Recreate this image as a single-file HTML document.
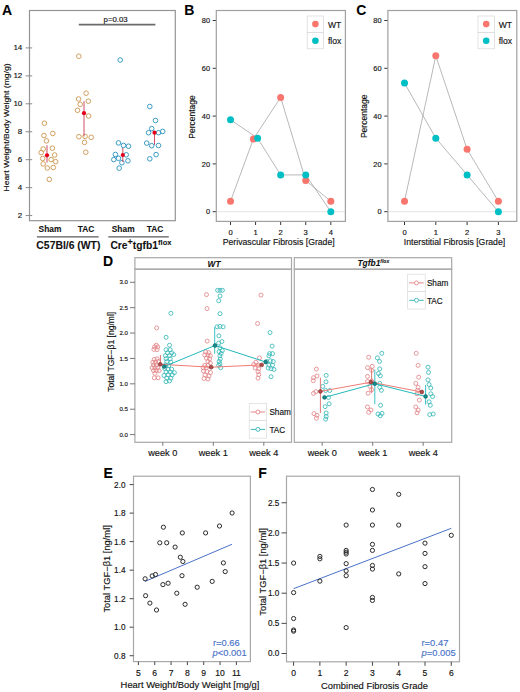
<!DOCTYPE html>
<html><head><meta charset="utf-8"><style>
html,body{margin:0;padding:0;background:#fff;}
svg{display:block;}
svg text{font-family:"Liberation Sans",sans-serif;}
</style></head><body>
<svg width="520" height="692" viewBox="0 0 520 692">
<rect x="0" y="0" width="520" height="692" fill="#fff"/>
<text x="2.10" y="14.90" font-size="14" text-anchor="start" font-weight="bold" font-style="normal" fill="#000" stroke="#000" stroke-width="0.08" >A</text>
<text x="184.20" y="14.80" font-size="14" text-anchor="start" font-weight="bold" font-style="normal" fill="#000" stroke="#000" stroke-width="0.08" >B</text>
<text x="356.30" y="14.80" font-size="14" text-anchor="start" font-weight="bold" font-style="normal" fill="#000" stroke="#000" stroke-width="0.08" >C</text>
<text x="102.90" y="266.10" font-size="14" text-anchor="start" font-weight="bold" font-style="normal" fill="#000" stroke="#000" stroke-width="0.08" >D</text>
<text x="103.40" y="477.90" font-size="14" text-anchor="start" font-weight="bold" font-style="normal" fill="#000" stroke="#000" stroke-width="0.08" >E</text>
<text x="258.30" y="478.00" font-size="14" text-anchor="start" font-weight="bold" font-style="normal" fill="#000" stroke="#000" stroke-width="0.08" >F</text>
<rect x="29.50" y="10.50" width="145.80" height="210.20" stroke="#959595" stroke-width="1.2" fill="none"/>
<line x1="25.70" y1="215.56" x2="32.20" y2="215.56" stroke="#8a8a8a" stroke-width="1" />
<text x="22.30" y="217.66" font-size="8" text-anchor="end" font-weight="normal" font-style="normal" fill="#111" stroke="#111" stroke-width="0.15" >2</text>
<line x1="25.70" y1="187.62" x2="32.20" y2="187.62" stroke="#8a8a8a" stroke-width="1" />
<text x="22.30" y="189.72" font-size="8" text-anchor="end" font-weight="normal" font-style="normal" fill="#111" stroke="#111" stroke-width="0.15" >4</text>
<line x1="25.70" y1="159.68" x2="32.20" y2="159.68" stroke="#8a8a8a" stroke-width="1" />
<text x="22.30" y="161.78" font-size="8" text-anchor="end" font-weight="normal" font-style="normal" fill="#111" stroke="#111" stroke-width="0.15" >6</text>
<line x1="25.70" y1="131.74" x2="32.20" y2="131.74" stroke="#8a8a8a" stroke-width="1" />
<text x="22.30" y="133.84" font-size="8" text-anchor="end" font-weight="normal" font-style="normal" fill="#111" stroke="#111" stroke-width="0.15" >8</text>
<line x1="25.70" y1="103.80" x2="32.20" y2="103.80" stroke="#8a8a8a" stroke-width="1" />
<text x="22.30" y="105.90" font-size="8" text-anchor="end" font-weight="normal" font-style="normal" fill="#111" stroke="#111" stroke-width="0.15" >10</text>
<line x1="25.70" y1="75.86" x2="32.20" y2="75.86" stroke="#8a8a8a" stroke-width="1" />
<text x="22.30" y="77.96" font-size="8" text-anchor="end" font-weight="normal" font-style="normal" fill="#111" stroke="#111" stroke-width="0.15" >12</text>
<line x1="25.70" y1="47.92" x2="32.20" y2="47.92" stroke="#8a8a8a" stroke-width="1" />
<text x="22.30" y="50.02" font-size="8" text-anchor="end" font-weight="normal" font-style="normal" fill="#111" stroke="#111" stroke-width="0.15" >14</text>
<text x="9.40" y="127.40" font-size="7.9" text-anchor="middle" font-weight="normal" font-style="normal" fill="#111" stroke="#111" stroke-width="0.15" transform="rotate(-90 9.4 127.4)" textLength="128" lengthAdjust="spacingAndGlyphs">Heart Weight/Body Weight (mg/g)</text>
<line x1="78.80" y1="24.60" x2="155.40" y2="24.60" stroke="#6b6b6b" stroke-width="1.6" />
<text x="115.60" y="22.10" font-size="7.8" text-anchor="middle" font-weight="normal" font-style="normal" fill="#111" stroke="#111" stroke-width="0.15" >p=0.03</text>
<text x="50.00" y="231.70" font-size="8.4" text-anchor="middle" font-weight="bold" font-style="normal" fill="#111" stroke="#111" stroke-width="0.08" >Sham</text>
<text x="86.00" y="231.70" font-size="8.4" text-anchor="middle" font-weight="bold" font-style="normal" fill="#111" stroke="#111" stroke-width="0.08" >TAC</text>
<text x="123.20" y="231.70" font-size="8.4" text-anchor="middle" font-weight="bold" font-style="normal" fill="#111" stroke="#111" stroke-width="0.08" >Sham</text>
<text x="155.00" y="231.70" font-size="8.4" text-anchor="middle" font-weight="bold" font-style="normal" fill="#111" stroke="#111" stroke-width="0.08" >TAC</text>
<line x1="36.90" y1="236.90" x2="98.70" y2="236.90" stroke="#333" stroke-width="1" />
<line x1="108.30" y1="236.90" x2="168.80" y2="236.90" stroke="#333" stroke-width="1" />
<text x="68.40" y="248.90" font-size="10.4" text-anchor="middle" font-weight="bold" font-style="normal" fill="#111" stroke="#111" stroke-width="0.08" >C57Bl/6 (WT)</text>
<text x="110.4" y="248.9" font-size="10.3" font-weight="bold" fill="#111" stroke="#111" stroke-width="0.08">Cre<tspan font-size="9" dy="-3.6">+</tspan><tspan dy="3.6">tgfb1</tspan><tspan font-size="7.6" dy="-4.3">flox</tspan></text>
<circle cx="44.40" cy="123.20" r="2.3" stroke="#d2a060" stroke-width="1" fill="none"/>
<circle cx="52.80" cy="133.50" r="2.3" stroke="#d2a060" stroke-width="1" fill="none"/>
<circle cx="43.90" cy="135.50" r="2.3" stroke="#d2a060" stroke-width="1" fill="none"/>
<circle cx="46.50" cy="140.90" r="2.3" stroke="#d2a060" stroke-width="1" fill="none"/>
<circle cx="52.40" cy="148.20" r="2.3" stroke="#d2a060" stroke-width="1" fill="none"/>
<circle cx="43.20" cy="149.00" r="2.3" stroke="#d2a060" stroke-width="1" fill="none"/>
<circle cx="41.20" cy="152.60" r="2.3" stroke="#d2a060" stroke-width="1" fill="none"/>
<circle cx="54.70" cy="155.00" r="2.3" stroke="#d2a060" stroke-width="1" fill="none"/>
<circle cx="42.70" cy="158.50" r="2.3" stroke="#d2a060" stroke-width="1" fill="none"/>
<circle cx="51.10" cy="159.60" r="2.3" stroke="#d2a060" stroke-width="1" fill="none"/>
<circle cx="55.70" cy="161.70" r="2.3" stroke="#d2a060" stroke-width="1" fill="none"/>
<circle cx="43.20" cy="163.90" r="2.3" stroke="#d2a060" stroke-width="1" fill="none"/>
<circle cx="47.30" cy="168.00" r="2.3" stroke="#d2a060" stroke-width="1" fill="none"/>
<circle cx="53.30" cy="167.50" r="2.3" stroke="#d2a060" stroke-width="1" fill="none"/>
<circle cx="49.30" cy="179.40" r="2.3" stroke="#d2a060" stroke-width="1" fill="none"/>
<circle cx="78.80" cy="56.20" r="2.3" stroke="#d2a060" stroke-width="1" fill="none"/>
<circle cx="86.10" cy="93.20" r="2.3" stroke="#d2a060" stroke-width="1" fill="none"/>
<circle cx="78.60" cy="99.00" r="2.3" stroke="#d2a060" stroke-width="1" fill="none"/>
<circle cx="88.30" cy="101.20" r="2.3" stroke="#d2a060" stroke-width="1" fill="none"/>
<circle cx="80.20" cy="104.30" r="2.3" stroke="#d2a060" stroke-width="1" fill="none"/>
<circle cx="77.50" cy="110.30" r="2.3" stroke="#d2a060" stroke-width="1" fill="none"/>
<circle cx="88.60" cy="116.00" r="2.3" stroke="#d2a060" stroke-width="1" fill="none"/>
<circle cx="78.90" cy="136.70" r="2.3" stroke="#d2a060" stroke-width="1" fill="none"/>
<circle cx="85.10" cy="136.40" r="2.3" stroke="#d2a060" stroke-width="1" fill="none"/>
<circle cx="91.20" cy="137.30" r="2.3" stroke="#d2a060" stroke-width="1" fill="none"/>
<circle cx="84.50" cy="142.40" r="2.3" stroke="#d2a060" stroke-width="1" fill="none"/>
<circle cx="85.80" cy="152.20" r="2.3" stroke="#d2a060" stroke-width="1" fill="none"/>
<circle cx="120.20" cy="60.00" r="2.3" stroke="#3b9cc4" stroke-width="1" fill="none"/>
<circle cx="118.50" cy="142.90" r="2.3" stroke="#3b9cc4" stroke-width="1" fill="none"/>
<circle cx="123.50" cy="145.40" r="2.3" stroke="#3b9cc4" stroke-width="1" fill="none"/>
<circle cx="128.50" cy="146.20" r="2.3" stroke="#3b9cc4" stroke-width="1" fill="none"/>
<circle cx="115.40" cy="154.50" r="2.3" stroke="#3b9cc4" stroke-width="1" fill="none"/>
<circle cx="126.20" cy="154.80" r="2.3" stroke="#3b9cc4" stroke-width="1" fill="none"/>
<circle cx="113.80" cy="159.60" r="2.3" stroke="#3b9cc4" stroke-width="1" fill="none"/>
<circle cx="118.50" cy="158.30" r="2.3" stroke="#3b9cc4" stroke-width="1" fill="none"/>
<circle cx="121.90" cy="162.70" r="2.3" stroke="#3b9cc4" stroke-width="1" fill="none"/>
<circle cx="127.90" cy="160.80" r="2.3" stroke="#3b9cc4" stroke-width="1" fill="none"/>
<circle cx="119.20" cy="168.10" r="2.3" stroke="#3b9cc4" stroke-width="1" fill="none"/>
<circle cx="149.80" cy="106.50" r="2.3" stroke="#3b9cc4" stroke-width="1" fill="none"/>
<circle cx="155.50" cy="120.50" r="2.3" stroke="#3b9cc4" stroke-width="1" fill="none"/>
<circle cx="151.70" cy="128.60" r="2.3" stroke="#3b9cc4" stroke-width="1" fill="none"/>
<circle cx="148.60" cy="132.70" r="2.3" stroke="#3b9cc4" stroke-width="1" fill="none"/>
<circle cx="158.50" cy="132.70" r="2.3" stroke="#3b9cc4" stroke-width="1" fill="none"/>
<circle cx="162.70" cy="131.40" r="2.3" stroke="#3b9cc4" stroke-width="1" fill="none"/>
<circle cx="146.70" cy="143.10" r="2.3" stroke="#3b9cc4" stroke-width="1" fill="none"/>
<circle cx="151.70" cy="145.70" r="2.3" stroke="#3b9cc4" stroke-width="1" fill="none"/>
<circle cx="158.50" cy="145.50" r="2.3" stroke="#3b9cc4" stroke-width="1" fill="none"/>
<circle cx="156.10" cy="154.60" r="2.3" stroke="#3b9cc4" stroke-width="1" fill="none"/>
<circle cx="149.80" cy="158.80" r="2.3" stroke="#3b9cc4" stroke-width="1" fill="none"/>
<line x1="47.00" y1="145.20" x2="47.00" y2="162.60" stroke="#c83a55" stroke-width="0.9" />
<circle cx="47.00" cy="155.30" r="2.1" stroke="none" stroke-width="1" fill="#e3001b"/>
<line x1="84.00" y1="101.20" x2="84.00" y2="136.40" stroke="#c83a55" stroke-width="0.9" />
<circle cx="84.00" cy="113.20" r="2.1" stroke="none" stroke-width="1" fill="#e3001b"/>
<line x1="122.80" y1="148.00" x2="122.80" y2="162.00" stroke="#c83a55" stroke-width="0.9" />
<circle cx="122.80" cy="155.00" r="2.1" stroke="none" stroke-width="1" fill="#e3001b"/>
<line x1="154.50" y1="132.70" x2="154.50" y2="144.80" stroke="#c83a55" stroke-width="0.9" />
<circle cx="154.50" cy="132.70" r="2.1" stroke="none" stroke-width="1" fill="#e3001b"/>
<line x1="216.30" y1="211.70" x2="345.40" y2="211.70" stroke="#dcdcdc" stroke-width="0.8" />
<line x1="212.70" y1="211.70" x2="216.30" y2="211.70" stroke="#333" stroke-width="1" />
<text x="210.00" y="214.30" font-size="7.4" text-anchor="end" font-weight="normal" font-style="normal" fill="#111" stroke="#111" stroke-width="0.15" >0</text>
<line x1="212.70" y1="163.90" x2="216.30" y2="163.90" stroke="#333" stroke-width="1" />
<text x="210.00" y="166.50" font-size="7.4" text-anchor="end" font-weight="normal" font-style="normal" fill="#111" stroke="#111" stroke-width="0.15" >20</text>
<line x1="212.70" y1="116.10" x2="216.30" y2="116.10" stroke="#333" stroke-width="1" />
<text x="210.00" y="118.70" font-size="7.4" text-anchor="end" font-weight="normal" font-style="normal" fill="#111" stroke="#111" stroke-width="0.15" >40</text>
<line x1="212.70" y1="68.30" x2="216.30" y2="68.30" stroke="#333" stroke-width="1" />
<text x="210.00" y="70.90" font-size="7.4" text-anchor="end" font-weight="normal" font-style="normal" fill="#111" stroke="#111" stroke-width="0.15" >60</text>
<line x1="212.70" y1="20.50" x2="216.30" y2="20.50" stroke="#333" stroke-width="1" />
<text x="210.00" y="23.10" font-size="7.4" text-anchor="end" font-weight="normal" font-style="normal" fill="#111" stroke="#111" stroke-width="0.15" >80</text>
<line x1="230.50" y1="221.40" x2="230.50" y2="225.00" stroke="#333" stroke-width="1" />
<text x="230.50" y="235.30" font-size="7.6" text-anchor="middle" font-weight="normal" font-style="normal" fill="#111" stroke="#111" stroke-width="0.15" >0</text>
<line x1="255.58" y1="221.40" x2="255.58" y2="225.00" stroke="#333" stroke-width="1" />
<text x="255.58" y="235.30" font-size="7.6" text-anchor="middle" font-weight="normal" font-style="normal" fill="#111" stroke="#111" stroke-width="0.15" >1</text>
<line x1="280.66" y1="221.40" x2="280.66" y2="225.00" stroke="#333" stroke-width="1" />
<text x="280.66" y="235.30" font-size="7.6" text-anchor="middle" font-weight="normal" font-style="normal" fill="#111" stroke="#111" stroke-width="0.15" >2</text>
<line x1="305.74" y1="221.40" x2="305.74" y2="225.00" stroke="#333" stroke-width="1" />
<text x="305.74" y="235.30" font-size="7.6" text-anchor="middle" font-weight="normal" font-style="normal" fill="#111" stroke="#111" stroke-width="0.15" >3</text>
<line x1="330.82" y1="221.40" x2="330.82" y2="225.00" stroke="#333" stroke-width="1" />
<text x="330.82" y="235.30" font-size="7.6" text-anchor="middle" font-weight="normal" font-style="normal" fill="#111" stroke="#111" stroke-width="0.15" >4</text>
<text x="278.70" y="245.20" font-size="8.7" text-anchor="middle" font-weight="normal" font-style="normal" fill="#111" stroke="#111" stroke-width="0.15" >Perivascular Fibrosis [Grade]</text>
<text x="195.20" y="117.00" font-size="8.5" text-anchor="middle" font-weight="normal" font-style="normal" fill="#111" stroke="#111" stroke-width="0.15" transform="rotate(-90 195.20000000000002 117)" >Percentage</text>
<polyline points="230.50,201.31 253.38,138.96 280.66,97.40 305.74,180.53 330.82,201.31" fill="none" stroke="#9a9a9a" stroke-width="0.7"/>
<polyline points="230.50,119.78 257.58,138.16 280.66,174.93 305.74,174.93 330.82,211.70" fill="none" stroke="#9a9a9a" stroke-width="0.7"/>
<circle cx="230.50" cy="201.31" r="3.5" stroke="none" stroke-width="1" fill="#f8766d"/>
<circle cx="253.38" cy="138.96" r="3.5" stroke="none" stroke-width="1" fill="#f8766d"/>
<circle cx="280.66" cy="97.40" r="3.5" stroke="none" stroke-width="1" fill="#f8766d"/>
<circle cx="305.74" cy="180.53" r="3.5" stroke="none" stroke-width="1" fill="#f8766d"/>
<circle cx="330.82" cy="201.31" r="3.5" stroke="none" stroke-width="1" fill="#f8766d"/>
<circle cx="230.50" cy="119.78" r="3.5" stroke="none" stroke-width="1" fill="#00bfc4"/>
<circle cx="257.58" cy="138.16" r="3.5" stroke="none" stroke-width="1" fill="#00bfc4"/>
<circle cx="280.66" cy="174.93" r="3.5" stroke="none" stroke-width="1" fill="#00bfc4"/>
<circle cx="305.74" cy="174.93" r="3.5" stroke="none" stroke-width="1" fill="#00bfc4"/>
<circle cx="330.82" cy="211.70" r="3.5" stroke="none" stroke-width="1" fill="#00bfc4"/>
<rect x="216.30" y="10.50" width="129.10" height="210.90" stroke="#a0a0a0" stroke-width="1.2" fill="none"/>
<rect x="307.20" y="16.00" width="16.40" height="16.40" stroke="#d0d0d0" stroke-width="0.6" fill="#fff"/>
<rect x="307.20" y="32.40" width="16.40" height="16.40" stroke="#d0d0d0" stroke-width="0.6" fill="#fff"/>
<circle cx="315.40" cy="24.10" r="3.3" stroke="none" stroke-width="1" fill="#f8766d"/>
<circle cx="315.40" cy="40.80" r="3.3" stroke="none" stroke-width="1" fill="#00bfc4"/>
<text x="327.90" y="27.50" font-size="8.6" text-anchor="start" font-weight="normal" font-style="normal" fill="#111" stroke="#111" stroke-width="0.15" >WT</text>
<text x="327.90" y="44.20" font-size="8.6" text-anchor="start" font-weight="normal" font-style="normal" fill="#111" stroke="#111" stroke-width="0.15" >flox</text>
<line x1="387.90" y1="211.70" x2="516.80" y2="211.70" stroke="#dcdcdc" stroke-width="0.8" />
<line x1="384.30" y1="211.70" x2="387.90" y2="211.70" stroke="#333" stroke-width="1" />
<text x="381.60" y="214.30" font-size="7.4" text-anchor="end" font-weight="normal" font-style="normal" fill="#111" stroke="#111" stroke-width="0.15" >0</text>
<line x1="384.30" y1="163.90" x2="387.90" y2="163.90" stroke="#333" stroke-width="1" />
<text x="381.60" y="166.50" font-size="7.4" text-anchor="end" font-weight="normal" font-style="normal" fill="#111" stroke="#111" stroke-width="0.15" >20</text>
<line x1="384.30" y1="116.10" x2="387.90" y2="116.10" stroke="#333" stroke-width="1" />
<text x="381.60" y="118.70" font-size="7.4" text-anchor="end" font-weight="normal" font-style="normal" fill="#111" stroke="#111" stroke-width="0.15" >40</text>
<line x1="384.30" y1="68.30" x2="387.90" y2="68.30" stroke="#333" stroke-width="1" />
<text x="381.60" y="70.90" font-size="7.4" text-anchor="end" font-weight="normal" font-style="normal" fill="#111" stroke="#111" stroke-width="0.15" >60</text>
<line x1="384.30" y1="20.50" x2="387.90" y2="20.50" stroke="#333" stroke-width="1" />
<text x="381.60" y="23.10" font-size="7.4" text-anchor="end" font-weight="normal" font-style="normal" fill="#111" stroke="#111" stroke-width="0.15" >80</text>
<line x1="404.50" y1="221.40" x2="404.50" y2="225.00" stroke="#333" stroke-width="1" />
<text x="404.50" y="235.30" font-size="7.6" text-anchor="middle" font-weight="normal" font-style="normal" fill="#111" stroke="#111" stroke-width="0.15" >0</text>
<line x1="435.80" y1="221.40" x2="435.80" y2="225.00" stroke="#333" stroke-width="1" />
<text x="435.80" y="235.30" font-size="7.6" text-anchor="middle" font-weight="normal" font-style="normal" fill="#111" stroke="#111" stroke-width="0.15" >1</text>
<line x1="467.10" y1="221.40" x2="467.10" y2="225.00" stroke="#333" stroke-width="1" />
<text x="467.10" y="235.30" font-size="7.6" text-anchor="middle" font-weight="normal" font-style="normal" fill="#111" stroke="#111" stroke-width="0.15" >2</text>
<line x1="498.40" y1="221.40" x2="498.40" y2="225.00" stroke="#333" stroke-width="1" />
<text x="498.40" y="235.30" font-size="7.6" text-anchor="middle" font-weight="normal" font-style="normal" fill="#111" stroke="#111" stroke-width="0.15" >3</text>
<text x="454.50" y="245.20" font-size="8.7" text-anchor="middle" font-weight="normal" font-style="normal" fill="#111" stroke="#111" stroke-width="0.15" >Interstitial Fibrosis [Grade]</text>
<text x="366.80" y="116.30" font-size="8.5" text-anchor="middle" font-weight="normal" font-style="normal" fill="#111" stroke="#111" stroke-width="0.15" transform="rotate(-90 366.79999999999995 116.3)" >Percentage</text>
<polyline points="404.50,201.31 435.80,55.83 467.10,149.35 498.40,201.31" fill="none" stroke="#9a9a9a" stroke-width="0.7"/>
<polyline points="404.50,83.01 435.80,138.16 467.10,174.93 498.40,211.70" fill="none" stroke="#9a9a9a" stroke-width="0.7"/>
<circle cx="404.50" cy="201.31" r="3.5" stroke="none" stroke-width="1" fill="#f8766d"/>
<circle cx="435.80" cy="55.83" r="3.5" stroke="none" stroke-width="1" fill="#f8766d"/>
<circle cx="467.10" cy="149.35" r="3.5" stroke="none" stroke-width="1" fill="#f8766d"/>
<circle cx="498.40" cy="201.31" r="3.5" stroke="none" stroke-width="1" fill="#f8766d"/>
<circle cx="404.50" cy="83.01" r="3.5" stroke="none" stroke-width="1" fill="#00bfc4"/>
<circle cx="435.80" cy="138.16" r="3.5" stroke="none" stroke-width="1" fill="#00bfc4"/>
<circle cx="467.10" cy="174.93" r="3.5" stroke="none" stroke-width="1" fill="#00bfc4"/>
<circle cx="498.40" cy="211.70" r="3.5" stroke="none" stroke-width="1" fill="#00bfc4"/>
<rect x="387.90" y="10.50" width="128.90" height="210.90" stroke="#a0a0a0" stroke-width="1.2" fill="none"/>
<rect x="478.00" y="16.00" width="16.40" height="16.40" stroke="#d0d0d0" stroke-width="0.6" fill="#fff"/>
<rect x="478.00" y="32.40" width="16.40" height="16.40" stroke="#d0d0d0" stroke-width="0.6" fill="#fff"/>
<circle cx="486.20" cy="24.10" r="3.3" stroke="none" stroke-width="1" fill="#f8766d"/>
<circle cx="486.20" cy="40.80" r="3.3" stroke="none" stroke-width="1" fill="#00bfc4"/>
<text x="498.70" y="27.50" font-size="8.6" text-anchor="start" font-weight="normal" font-style="normal" fill="#111" stroke="#111" stroke-width="0.15" >WT</text>
<text x="498.70" y="44.20" font-size="8.6" text-anchor="start" font-weight="normal" font-style="normal" fill="#111" stroke="#111" stroke-width="0.15" >flox</text>
<rect x="134.90" y="257.70" width="156.60" height="11.50" stroke="#a8a8a8" stroke-width="1.2" fill="#fff"/>
<rect x="134.90" y="269.20" width="156.60" height="173.10" stroke="#a8a8a8" stroke-width="1.2" fill="none"/>
<line x1="162.80" y1="442.30" x2="162.80" y2="445.80" stroke="#555" stroke-width="0.8" />
<text x="162.80" y="455.80" font-size="9.2" text-anchor="middle" font-weight="normal" font-style="normal" fill="#111" stroke="#111" stroke-width="0.15" >week 0</text>
<line x1="213.30" y1="442.30" x2="213.30" y2="445.80" stroke="#555" stroke-width="0.8" />
<text x="213.30" y="455.80" font-size="9.2" text-anchor="middle" font-weight="normal" font-style="normal" fill="#111" stroke="#111" stroke-width="0.15" >week 1</text>
<line x1="263.80" y1="442.30" x2="263.80" y2="445.80" stroke="#555" stroke-width="0.8" />
<text x="263.80" y="455.80" font-size="9.2" text-anchor="middle" font-weight="normal" font-style="normal" fill="#111" stroke="#111" stroke-width="0.15" >week 4</text>
<rect x="294.30" y="257.70" width="157.40" height="11.50" stroke="#a8a8a8" stroke-width="1.2" fill="#fff"/>
<rect x="294.30" y="269.20" width="157.40" height="173.10" stroke="#a8a8a8" stroke-width="1.2" fill="none"/>
<line x1="322.20" y1="442.30" x2="322.20" y2="445.80" stroke="#555" stroke-width="0.8" />
<text x="322.20" y="455.80" font-size="9.2" text-anchor="middle" font-weight="normal" font-style="normal" fill="#111" stroke="#111" stroke-width="0.15" >week 0</text>
<line x1="372.70" y1="442.30" x2="372.70" y2="445.80" stroke="#555" stroke-width="0.8" />
<text x="372.70" y="455.80" font-size="9.2" text-anchor="middle" font-weight="normal" font-style="normal" fill="#111" stroke="#111" stroke-width="0.15" >week 1</text>
<line x1="423.20" y1="442.30" x2="423.20" y2="445.80" stroke="#555" stroke-width="0.8" />
<text x="423.20" y="455.80" font-size="9.2" text-anchor="middle" font-weight="normal" font-style="normal" fill="#111" stroke="#111" stroke-width="0.15" >week 4</text>
<text x="214.00" y="266.80" font-size="8.3" text-anchor="middle" font-weight="bold" font-style="italic" fill="#111" stroke="#111" stroke-width="0.08" >WT</text>
<text x="357.5" y="266.4" font-size="8.4" font-weight="bold" font-style="italic" fill="#111" stroke="#111" stroke-width="0.08">Tgfb1<tspan font-size="5.0" dy="-3.1">flox</tspan></text>
<line x1="130.00" y1="434.60" x2="134.90" y2="434.60" stroke="#555" stroke-width="0.8" />
<text x="127.90" y="436.80" font-size="6.1" text-anchor="end" font-weight="normal" font-style="normal" fill="#111" stroke="#111" stroke-width="0.15" >0.0</text>
<line x1="130.00" y1="409.22" x2="134.90" y2="409.22" stroke="#555" stroke-width="0.8" />
<text x="127.90" y="411.42" font-size="6.1" text-anchor="end" font-weight="normal" font-style="normal" fill="#111" stroke="#111" stroke-width="0.15" >0.5</text>
<line x1="130.00" y1="383.83" x2="134.90" y2="383.83" stroke="#555" stroke-width="0.8" />
<text x="127.90" y="386.03" font-size="6.1" text-anchor="end" font-weight="normal" font-style="normal" fill="#111" stroke="#111" stroke-width="0.15" >1.0</text>
<line x1="130.00" y1="358.45" x2="134.90" y2="358.45" stroke="#555" stroke-width="0.8" />
<text x="127.90" y="360.65" font-size="6.1" text-anchor="end" font-weight="normal" font-style="normal" fill="#111" stroke="#111" stroke-width="0.15" >1.5</text>
<line x1="130.00" y1="333.06" x2="134.90" y2="333.06" stroke="#555" stroke-width="0.8" />
<text x="127.90" y="335.26" font-size="6.1" text-anchor="end" font-weight="normal" font-style="normal" fill="#111" stroke="#111" stroke-width="0.15" >2.0</text>
<line x1="130.00" y1="307.68" x2="134.90" y2="307.68" stroke="#555" stroke-width="0.8" />
<text x="127.90" y="309.88" font-size="6.1" text-anchor="end" font-weight="normal" font-style="normal" fill="#111" stroke="#111" stroke-width="0.15" >2.5</text>
<line x1="130.00" y1="282.29" x2="134.90" y2="282.29" stroke="#555" stroke-width="0.8" />
<text x="127.90" y="284.49" font-size="6.1" text-anchor="end" font-weight="normal" font-style="normal" fill="#111" stroke="#111" stroke-width="0.15" >3.0</text>
<text x="113.60" y="351.80" font-size="8.4" text-anchor="middle" font-weight="normal" font-style="normal" fill="#111" stroke="#111" stroke-width="0.15" transform="rotate(-90 113.6 351.8)" textLength="80" lengthAdjust="spacingAndGlyphs">Total TGF−β1 [ng/ml]</text>
<circle cx="156.70" cy="327.90" r="2.0" stroke="#e3878a" stroke-width="0.85" fill="none"/>
<circle cx="156.30" cy="345.20" r="2.0" stroke="#e3878a" stroke-width="0.85" fill="none"/>
<circle cx="154.60" cy="346.90" r="2.0" stroke="#e3878a" stroke-width="0.85" fill="none"/>
<circle cx="157.70" cy="346.90" r="2.0" stroke="#e3878a" stroke-width="0.85" fill="none"/>
<circle cx="153.90" cy="349.40" r="2.0" stroke="#e3878a" stroke-width="0.85" fill="none"/>
<circle cx="157.00" cy="349.70" r="2.0" stroke="#e3878a" stroke-width="0.85" fill="none"/>
<circle cx="154.30" cy="377.80" r="2.0" stroke="#e3878a" stroke-width="0.85" fill="none"/>
<circle cx="158.10" cy="377.80" r="2.0" stroke="#e3878a" stroke-width="0.85" fill="none"/>
<circle cx="154.25" cy="359.44" r="2.0" stroke="#e3878a" stroke-width="0.85" fill="none"/>
<circle cx="157.03" cy="358.75" r="2.0" stroke="#e3878a" stroke-width="0.85" fill="none"/>
<circle cx="152.86" cy="362.22" r="2.0" stroke="#e3878a" stroke-width="0.85" fill="none"/>
<circle cx="155.64" cy="362.22" r="2.0" stroke="#e3878a" stroke-width="0.85" fill="none"/>
<circle cx="158.42" cy="361.53" r="2.0" stroke="#e3878a" stroke-width="0.85" fill="none"/>
<circle cx="153.56" cy="365.00" r="2.0" stroke="#e3878a" stroke-width="0.85" fill="none"/>
<circle cx="156.33" cy="365.00" r="2.0" stroke="#e3878a" stroke-width="0.85" fill="none"/>
<circle cx="152.17" cy="367.78" r="2.0" stroke="#e3878a" stroke-width="0.85" fill="none"/>
<circle cx="154.94" cy="367.78" r="2.0" stroke="#e3878a" stroke-width="0.85" fill="none"/>
<circle cx="157.72" cy="367.78" r="2.0" stroke="#e3878a" stroke-width="0.85" fill="none"/>
<circle cx="153.56" cy="370.56" r="2.0" stroke="#e3878a" stroke-width="0.85" fill="none"/>
<circle cx="156.33" cy="370.56" r="2.0" stroke="#e3878a" stroke-width="0.85" fill="none"/>
<circle cx="159.11" cy="370.56" r="2.0" stroke="#e3878a" stroke-width="0.85" fill="none"/>
<circle cx="154.94" cy="373.33" r="2.0" stroke="#e3878a" stroke-width="0.85" fill="none"/>
<circle cx="206.50" cy="294.60" r="2.0" stroke="#e3878a" stroke-width="0.85" fill="none"/>
<circle cx="207.00" cy="308.60" r="2.0" stroke="#e3878a" stroke-width="0.85" fill="none"/>
<circle cx="207.20" cy="341.10" r="2.0" stroke="#e3878a" stroke-width="0.85" fill="none"/>
<circle cx="203.50" cy="371.00" r="2.0" stroke="#e3878a" stroke-width="0.85" fill="none"/>
<circle cx="207.00" cy="371.50" r="2.0" stroke="#e3878a" stroke-width="0.85" fill="none"/>
<circle cx="210.50" cy="372.50" r="2.0" stroke="#e3878a" stroke-width="0.85" fill="none"/>
<circle cx="205.00" cy="375.00" r="2.0" stroke="#e3878a" stroke-width="0.85" fill="none"/>
<circle cx="209.00" cy="376.00" r="2.0" stroke="#e3878a" stroke-width="0.85" fill="none"/>
<circle cx="204.00" cy="378.50" r="2.0" stroke="#e3878a" stroke-width="0.85" fill="none"/>
<circle cx="208.00" cy="379.00" r="2.0" stroke="#e3878a" stroke-width="0.85" fill="none"/>
<circle cx="205.57" cy="351.82" r="2.0" stroke="#e3878a" stroke-width="0.85" fill="none"/>
<circle cx="208.75" cy="352.62" r="2.0" stroke="#e3878a" stroke-width="0.85" fill="none"/>
<circle cx="204.77" cy="355.00" r="2.0" stroke="#e3878a" stroke-width="0.85" fill="none"/>
<circle cx="207.96" cy="355.00" r="2.0" stroke="#e3878a" stroke-width="0.85" fill="none"/>
<circle cx="210.34" cy="355.80" r="2.0" stroke="#e3878a" stroke-width="0.85" fill="none"/>
<circle cx="206.36" cy="358.19" r="2.0" stroke="#e3878a" stroke-width="0.85" fill="none"/>
<circle cx="209.55" cy="358.98" r="2.0" stroke="#e3878a" stroke-width="0.85" fill="none"/>
<circle cx="207.96" cy="361.37" r="2.0" stroke="#e3878a" stroke-width="0.85" fill="none"/>
<circle cx="210.34" cy="362.96" r="2.0" stroke="#e3878a" stroke-width="0.85" fill="none"/>
<circle cx="204.77" cy="365.35" r="2.0" stroke="#e3878a" stroke-width="0.85" fill="none"/>
<circle cx="207.96" cy="365.35" r="2.0" stroke="#e3878a" stroke-width="0.85" fill="none"/>
<circle cx="203.18" cy="367.73" r="2.0" stroke="#e3878a" stroke-width="0.85" fill="none"/>
<circle cx="206.36" cy="367.73" r="2.0" stroke="#e3878a" stroke-width="0.85" fill="none"/>
<circle cx="261.00" cy="295.10" r="2.0" stroke="#e3878a" stroke-width="0.85" fill="none"/>
<circle cx="257.60" cy="323.50" r="2.0" stroke="#e3878a" stroke-width="0.85" fill="none"/>
<circle cx="259.51" cy="357.92" r="2.0" stroke="#e3878a" stroke-width="0.85" fill="none"/>
<circle cx="255.90" cy="362.25" r="2.0" stroke="#e3878a" stroke-width="0.85" fill="none"/>
<circle cx="253.73" cy="364.42" r="2.0" stroke="#e3878a" stroke-width="0.85" fill="none"/>
<circle cx="258.06" cy="365.14" r="2.0" stroke="#e3878a" stroke-width="0.85" fill="none"/>
<circle cx="255.17" cy="368.03" r="2.0" stroke="#e3878a" stroke-width="0.85" fill="none"/>
<circle cx="258.79" cy="368.76" r="2.0" stroke="#e3878a" stroke-width="0.85" fill="none"/>
<circle cx="258.06" cy="371.65" r="2.0" stroke="#e3878a" stroke-width="0.85" fill="none"/>
<circle cx="258.79" cy="374.54" r="2.0" stroke="#e3878a" stroke-width="0.85" fill="none"/>
<circle cx="258.06" cy="378.15" r="2.0" stroke="#e3878a" stroke-width="0.85" fill="none"/>
<circle cx="316.40" cy="369.10" r="2.0" stroke="#e3878a" stroke-width="0.85" fill="none"/>
<circle cx="317.00" cy="376.00" r="2.0" stroke="#e3878a" stroke-width="0.85" fill="none"/>
<circle cx="313.50" cy="377.70" r="2.0" stroke="#e3878a" stroke-width="0.85" fill="none"/>
<circle cx="313.30" cy="380.60" r="2.0" stroke="#e3878a" stroke-width="0.85" fill="none"/>
<circle cx="313.50" cy="393.40" r="2.0" stroke="#e3878a" stroke-width="0.85" fill="none"/>
<circle cx="315.80" cy="391.60" r="2.0" stroke="#e3878a" stroke-width="0.85" fill="none"/>
<circle cx="314.00" cy="413.60" r="2.0" stroke="#e3878a" stroke-width="0.85" fill="none"/>
<circle cx="317.00" cy="415.30" r="2.0" stroke="#e3878a" stroke-width="0.85" fill="none"/>
<circle cx="316.40" cy="418.20" r="2.0" stroke="#e3878a" stroke-width="0.85" fill="none"/>
<circle cx="368.70" cy="357.30" r="2.0" stroke="#e3878a" stroke-width="0.85" fill="none"/>
<circle cx="372.20" cy="366.40" r="2.0" stroke="#e3878a" stroke-width="0.85" fill="none"/>
<circle cx="367.50" cy="367.70" r="2.0" stroke="#e3878a" stroke-width="0.85" fill="none"/>
<circle cx="371.60" cy="370.30" r="2.0" stroke="#e3878a" stroke-width="0.85" fill="none"/>
<circle cx="367.50" cy="376.40" r="2.0" stroke="#e3878a" stroke-width="0.85" fill="none"/>
<circle cx="367.50" cy="381.60" r="2.0" stroke="#e3878a" stroke-width="0.85" fill="none"/>
<circle cx="371.60" cy="381.00" r="2.0" stroke="#e3878a" stroke-width="0.85" fill="none"/>
<circle cx="369.90" cy="386.20" r="2.0" stroke="#e3878a" stroke-width="0.85" fill="none"/>
<circle cx="371.60" cy="389.70" r="2.0" stroke="#e3878a" stroke-width="0.85" fill="none"/>
<circle cx="368.10" cy="393.20" r="2.0" stroke="#e3878a" stroke-width="0.85" fill="none"/>
<circle cx="367.50" cy="407.00" r="2.0" stroke="#e3878a" stroke-width="0.85" fill="none"/>
<circle cx="371.00" cy="410.00" r="2.0" stroke="#e3878a" stroke-width="0.85" fill="none"/>
<circle cx="368.70" cy="412.30" r="2.0" stroke="#e3878a" stroke-width="0.85" fill="none"/>
<circle cx="416.20" cy="353.30" r="2.0" stroke="#e3878a" stroke-width="0.85" fill="none"/>
<circle cx="418.10" cy="365.40" r="2.0" stroke="#e3878a" stroke-width="0.85" fill="none"/>
<circle cx="418.70" cy="377.20" r="2.0" stroke="#e3878a" stroke-width="0.85" fill="none"/>
<circle cx="415.80" cy="383.40" r="2.0" stroke="#e3878a" stroke-width="0.85" fill="none"/>
<circle cx="418.10" cy="387.40" r="2.0" stroke="#e3878a" stroke-width="0.85" fill="none"/>
<circle cx="417.50" cy="390.30" r="2.0" stroke="#e3878a" stroke-width="0.85" fill="none"/>
<circle cx="417.00" cy="393.80" r="2.0" stroke="#e3878a" stroke-width="0.85" fill="none"/>
<circle cx="419.30" cy="400.10" r="2.0" stroke="#e3878a" stroke-width="0.85" fill="none"/>
<circle cx="415.80" cy="407.00" r="2.0" stroke="#e3878a" stroke-width="0.85" fill="none"/>
<circle cx="418.10" cy="410.00" r="2.0" stroke="#e3878a" stroke-width="0.85" fill="none"/>
<circle cx="417.00" cy="412.80" r="2.0" stroke="#e3878a" stroke-width="0.85" fill="none"/>
<circle cx="170.90" cy="313.30" r="2.0" stroke="#3ab8b8" stroke-width="0.85" fill="none"/>
<circle cx="166.10" cy="337.30" r="2.0" stroke="#3ab8b8" stroke-width="0.85" fill="none"/>
<circle cx="169.53" cy="345.21" r="2.0" stroke="#3ab8b8" stroke-width="0.85" fill="none"/>
<circle cx="166.06" cy="349.72" r="2.0" stroke="#3ab8b8" stroke-width="0.85" fill="none"/>
<circle cx="170.22" cy="349.72" r="2.0" stroke="#3ab8b8" stroke-width="0.85" fill="none"/>
<circle cx="167.44" cy="352.85" r="2.0" stroke="#3ab8b8" stroke-width="0.85" fill="none"/>
<circle cx="171.61" cy="352.85" r="2.0" stroke="#3ab8b8" stroke-width="0.85" fill="none"/>
<circle cx="165.36" cy="355.62" r="2.0" stroke="#3ab8b8" stroke-width="0.85" fill="none"/>
<circle cx="169.53" cy="355.62" r="2.0" stroke="#3ab8b8" stroke-width="0.85" fill="none"/>
<circle cx="173.69" cy="354.58" r="2.0" stroke="#3ab8b8" stroke-width="0.85" fill="none"/>
<circle cx="166.06" cy="358.75" r="2.0" stroke="#3ab8b8" stroke-width="0.85" fill="none"/>
<circle cx="170.22" cy="358.75" r="2.0" stroke="#3ab8b8" stroke-width="0.85" fill="none"/>
<circle cx="166.75" cy="361.53" r="2.0" stroke="#3ab8b8" stroke-width="0.85" fill="none"/>
<circle cx="170.92" cy="362.22" r="2.0" stroke="#3ab8b8" stroke-width="0.85" fill="none"/>
<circle cx="165.36" cy="365.00" r="2.0" stroke="#3ab8b8" stroke-width="0.85" fill="none"/>
<circle cx="168.83" cy="365.69" r="2.0" stroke="#3ab8b8" stroke-width="0.85" fill="none"/>
<circle cx="164.67" cy="368.47" r="2.0" stroke="#3ab8b8" stroke-width="0.85" fill="none"/>
<circle cx="168.14" cy="369.17" r="2.0" stroke="#3ab8b8" stroke-width="0.85" fill="none"/>
<circle cx="171.61" cy="369.17" r="2.0" stroke="#3ab8b8" stroke-width="0.85" fill="none"/>
<circle cx="166.06" cy="371.94" r="2.0" stroke="#3ab8b8" stroke-width="0.85" fill="none"/>
<circle cx="170.22" cy="371.94" r="2.0" stroke="#3ab8b8" stroke-width="0.85" fill="none"/>
<circle cx="174.39" cy="372.64" r="2.0" stroke="#3ab8b8" stroke-width="0.85" fill="none"/>
<circle cx="163.97" cy="375.42" r="2.0" stroke="#3ab8b8" stroke-width="0.85" fill="none"/>
<circle cx="168.14" cy="374.72" r="2.0" stroke="#3ab8b8" stroke-width="0.85" fill="none"/>
<circle cx="172.31" cy="374.72" r="2.0" stroke="#3ab8b8" stroke-width="0.85" fill="none"/>
<circle cx="166.75" cy="378.19" r="2.0" stroke="#3ab8b8" stroke-width="0.85" fill="none"/>
<circle cx="170.92" cy="378.19" r="2.0" stroke="#3ab8b8" stroke-width="0.85" fill="none"/>
<circle cx="166.06" cy="381.67" r="2.0" stroke="#3ab8b8" stroke-width="0.85" fill="none"/>
<circle cx="169.53" cy="380.97" r="2.0" stroke="#3ab8b8" stroke-width="0.85" fill="none"/>
<circle cx="217.60" cy="290.30" r="2.0" stroke="#3ab8b8" stroke-width="0.85" fill="none"/>
<circle cx="220.00" cy="290.30" r="2.0" stroke="#3ab8b8" stroke-width="0.85" fill="none"/>
<circle cx="222.40" cy="290.30" r="2.0" stroke="#3ab8b8" stroke-width="0.85" fill="none"/>
<circle cx="220.00" cy="296.00" r="2.0" stroke="#3ab8b8" stroke-width="0.85" fill="none"/>
<circle cx="218.70" cy="300.70" r="2.0" stroke="#3ab8b8" stroke-width="0.85" fill="none"/>
<circle cx="220.00" cy="313.70" r="2.0" stroke="#3ab8b8" stroke-width="0.85" fill="none"/>
<circle cx="217.10" cy="326.80" r="2.0" stroke="#3ab8b8" stroke-width="0.85" fill="none"/>
<circle cx="219.90" cy="326.40" r="2.0" stroke="#3ab8b8" stroke-width="0.85" fill="none"/>
<circle cx="223.10" cy="326.80" r="2.0" stroke="#3ab8b8" stroke-width="0.85" fill="none"/>
<circle cx="218.90" cy="335.80" r="2.0" stroke="#3ab8b8" stroke-width="0.85" fill="none"/>
<circle cx="221.90" cy="341.50" r="2.0" stroke="#3ab8b8" stroke-width="0.85" fill="none"/>
<circle cx="218.70" cy="343.10" r="2.0" stroke="#3ab8b8" stroke-width="0.85" fill="none"/>
<circle cx="220.00" cy="347.80" r="2.0" stroke="#3ab8b8" stroke-width="0.85" fill="none"/>
<circle cx="222.30" cy="350.60" r="2.0" stroke="#3ab8b8" stroke-width="0.85" fill="none"/>
<circle cx="219.10" cy="351.80" r="2.0" stroke="#3ab8b8" stroke-width="0.85" fill="none"/>
<circle cx="221.10" cy="353.40" r="2.0" stroke="#3ab8b8" stroke-width="0.85" fill="none"/>
<circle cx="219.90" cy="355.80" r="2.0" stroke="#3ab8b8" stroke-width="0.85" fill="none"/>
<circle cx="220.30" cy="359.00" r="2.0" stroke="#3ab8b8" stroke-width="0.85" fill="none"/>
<circle cx="219.10" cy="361.40" r="2.0" stroke="#3ab8b8" stroke-width="0.85" fill="none"/>
<circle cx="219.90" cy="363.80" r="2.0" stroke="#3ab8b8" stroke-width="0.85" fill="none"/>
<circle cx="218.70" cy="365.30" r="2.0" stroke="#3ab8b8" stroke-width="0.85" fill="none"/>
<circle cx="220.70" cy="367.70" r="2.0" stroke="#3ab8b8" stroke-width="0.85" fill="none"/>
<circle cx="270.00" cy="332.60" r="2.0" stroke="#3ab8b8" stroke-width="0.85" fill="none"/>
<circle cx="272.10" cy="346.10" r="2.0" stroke="#3ab8b8" stroke-width="0.85" fill="none"/>
<circle cx="269.62" cy="353.58" r="2.0" stroke="#3ab8b8" stroke-width="0.85" fill="none"/>
<circle cx="272.51" cy="353.58" r="2.0" stroke="#3ab8b8" stroke-width="0.85" fill="none"/>
<circle cx="268.90" cy="355.75" r="2.0" stroke="#3ab8b8" stroke-width="0.85" fill="none"/>
<circle cx="266.73" cy="361.53" r="2.0" stroke="#3ab8b8" stroke-width="0.85" fill="none"/>
<circle cx="270.35" cy="360.81" r="2.0" stroke="#3ab8b8" stroke-width="0.85" fill="none"/>
<circle cx="273.24" cy="361.53" r="2.0" stroke="#3ab8b8" stroke-width="0.85" fill="none"/>
<circle cx="268.90" cy="365.14" r="2.0" stroke="#3ab8b8" stroke-width="0.85" fill="none"/>
<circle cx="272.51" cy="365.14" r="2.0" stroke="#3ab8b8" stroke-width="0.85" fill="none"/>
<circle cx="268.18" cy="368.03" r="2.0" stroke="#3ab8b8" stroke-width="0.85" fill="none"/>
<circle cx="271.07" cy="368.76" r="2.0" stroke="#3ab8b8" stroke-width="0.85" fill="none"/>
<circle cx="273.96" cy="369.48" r="2.0" stroke="#3ab8b8" stroke-width="0.85" fill="none"/>
<circle cx="271.07" cy="376.71" r="2.0" stroke="#3ab8b8" stroke-width="0.85" fill="none"/>
<circle cx="326.20" cy="375.40" r="2.0" stroke="#3ab8b8" stroke-width="0.85" fill="none"/>
<circle cx="326.00" cy="381.80" r="2.0" stroke="#3ab8b8" stroke-width="0.85" fill="none"/>
<circle cx="322.70" cy="386.40" r="2.0" stroke="#3ab8b8" stroke-width="0.85" fill="none"/>
<circle cx="325.60" cy="390.50" r="2.0" stroke="#3ab8b8" stroke-width="0.85" fill="none"/>
<circle cx="329.70" cy="390.50" r="2.0" stroke="#3ab8b8" stroke-width="0.85" fill="none"/>
<circle cx="328.50" cy="397.40" r="2.0" stroke="#3ab8b8" stroke-width="0.85" fill="none"/>
<circle cx="329.10" cy="403.80" r="2.0" stroke="#3ab8b8" stroke-width="0.85" fill="none"/>
<circle cx="325.10" cy="406.60" r="2.0" stroke="#3ab8b8" stroke-width="0.85" fill="none"/>
<circle cx="326.20" cy="413.00" r="2.0" stroke="#3ab8b8" stroke-width="0.85" fill="none"/>
<circle cx="326.20" cy="416.50" r="2.0" stroke="#3ab8b8" stroke-width="0.85" fill="none"/>
<circle cx="325.60" cy="419.10" r="2.0" stroke="#3ab8b8" stroke-width="0.85" fill="none"/>
<circle cx="381.80" cy="353.30" r="2.0" stroke="#3ab8b8" stroke-width="0.85" fill="none"/>
<circle cx="377.40" cy="357.90" r="2.0" stroke="#3ab8b8" stroke-width="0.85" fill="none"/>
<circle cx="379.50" cy="361.40" r="2.0" stroke="#3ab8b8" stroke-width="0.85" fill="none"/>
<circle cx="379.70" cy="368.90" r="2.0" stroke="#3ab8b8" stroke-width="0.85" fill="none"/>
<circle cx="378.50" cy="373.50" r="2.0" stroke="#3ab8b8" stroke-width="0.85" fill="none"/>
<circle cx="380.30" cy="375.80" r="2.0" stroke="#3ab8b8" stroke-width="0.85" fill="none"/>
<circle cx="379.70" cy="383.40" r="2.0" stroke="#3ab8b8" stroke-width="0.85" fill="none"/>
<circle cx="379.70" cy="387.40" r="2.0" stroke="#3ab8b8" stroke-width="0.85" fill="none"/>
<circle cx="381.40" cy="390.30" r="2.0" stroke="#3ab8b8" stroke-width="0.85" fill="none"/>
<circle cx="380.60" cy="405.30" r="2.0" stroke="#3ab8b8" stroke-width="0.85" fill="none"/>
<circle cx="378.00" cy="414.00" r="2.0" stroke="#3ab8b8" stroke-width="0.85" fill="none"/>
<circle cx="382.00" cy="413.40" r="2.0" stroke="#3ab8b8" stroke-width="0.85" fill="none"/>
<circle cx="380.30" cy="415.70" r="2.0" stroke="#3ab8b8" stroke-width="0.85" fill="none"/>
<circle cx="428.00" cy="367.20" r="2.0" stroke="#3ab8b8" stroke-width="0.85" fill="none"/>
<circle cx="428.50" cy="372.40" r="2.0" stroke="#3ab8b8" stroke-width="0.85" fill="none"/>
<circle cx="428.00" cy="379.90" r="2.0" stroke="#3ab8b8" stroke-width="0.85" fill="none"/>
<circle cx="429.10" cy="384.50" r="2.0" stroke="#3ab8b8" stroke-width="0.85" fill="none"/>
<circle cx="430.80" cy="388.00" r="2.0" stroke="#3ab8b8" stroke-width="0.85" fill="none"/>
<circle cx="430.80" cy="393.80" r="2.0" stroke="#3ab8b8" stroke-width="0.85" fill="none"/>
<circle cx="432.60" cy="396.60" r="2.0" stroke="#3ab8b8" stroke-width="0.85" fill="none"/>
<circle cx="429.10" cy="401.80" r="2.0" stroke="#3ab8b8" stroke-width="0.85" fill="none"/>
<circle cx="430.30" cy="405.30" r="2.0" stroke="#3ab8b8" stroke-width="0.85" fill="none"/>
<circle cx="429.70" cy="414.60" r="2.0" stroke="#3ab8b8" stroke-width="0.85" fill="none"/>
<circle cx="433.20" cy="414.00" r="2.0" stroke="#3ab8b8" stroke-width="0.85" fill="none"/>
<line x1="214.70" y1="327.20" x2="214.70" y2="353.80" stroke="#3cc0c4" stroke-width="1" />
<line x1="320.40" y1="377.70" x2="320.40" y2="413.00" stroke="#e07a74" stroke-width="1" />
<line x1="374.80" y1="369.50" x2="374.80" y2="404.20" stroke="#3cc0c4" stroke-width="1" />
<line x1="425.60" y1="385.00" x2="425.60" y2="404.70" stroke="#3cc0c4" stroke-width="1" />
<line x1="371.60" y1="369.00" x2="371.60" y2="393.00" stroke="#e07a74" stroke-width="1" />
<line x1="160.40" y1="355.00" x2="160.40" y2="364.00" stroke="#d87070" stroke-width="1" />
<polyline points="160.3,364.3 211.2,367.2 261.7,364.9" fill="none" stroke="#f07b74" stroke-width="1"/>
<circle cx="160.30" cy="364.30" r="1.9" stroke="#7a2e2e" stroke-width="0.6" fill="#b54848"/>
<circle cx="211.20" cy="367.20" r="1.9" stroke="#7a2e2e" stroke-width="0.6" fill="#b54848"/>
<circle cx="261.70" cy="364.90" r="1.9" stroke="#7a2e2e" stroke-width="0.6" fill="#b54848"/>
<polyline points="164.2,366.6 215,345.5 265.7,362" fill="none" stroke="#25b9bd" stroke-width="1"/>
<circle cx="164.20" cy="366.60" r="1.9" stroke="#0c5f60" stroke-width="0.6" fill="#168c8c"/>
<circle cx="215.00" cy="345.50" r="1.9" stroke="#0c5f60" stroke-width="0.6" fill="#168c8c"/>
<circle cx="265.70" cy="362.00" r="1.9" stroke="#0c5f60" stroke-width="0.6" fill="#168c8c"/>
<polyline points="320.4,391.4 371,382.2 421.8,392" fill="none" stroke="#f07b74" stroke-width="1"/>
<circle cx="320.40" cy="391.40" r="1.9" stroke="#7a2e2e" stroke-width="0.6" fill="#b54848"/>
<circle cx="371.00" cy="382.20" r="1.9" stroke="#7a2e2e" stroke-width="0.6" fill="#b54848"/>
<circle cx="421.80" cy="392.00" r="1.9" stroke="#7a2e2e" stroke-width="0.6" fill="#b54848"/>
<polyline points="324.5,397.4 374.8,383.7 425.6,396.4" fill="none" stroke="#25b9bd" stroke-width="1"/>
<circle cx="324.50" cy="397.40" r="1.9" stroke="#0c5f60" stroke-width="0.6" fill="#168c8c"/>
<circle cx="374.80" cy="383.70" r="1.9" stroke="#0c5f60" stroke-width="0.6" fill="#168c8c"/>
<circle cx="425.60" cy="396.40" r="1.9" stroke="#0c5f60" stroke-width="0.6" fill="#168c8c"/>
<rect x="249.20" y="403.30" width="17.50" height="17.40" stroke="#d4d4d4" stroke-width="0.6" fill="#fff"/>
<line x1="250.70" y1="412.00" x2="265.20" y2="412.00" stroke="#e3878a" stroke-width="1" />
<circle cx="257.95" cy="412.00" r="2" stroke="#e3878a" stroke-width="0.9" fill="#fff"/>
<text x="269.40" y="415.20" font-size="8.2" text-anchor="start" font-weight="normal" font-style="normal" fill="#111" stroke="#111" stroke-width="0.15" >Sham</text>
<rect x="249.20" y="420.70" width="17.50" height="17.40" stroke="#d4d4d4" stroke-width="0.6" fill="#fff"/>
<line x1="250.70" y1="429.40" x2="265.20" y2="429.40" stroke="#3ab8b8" stroke-width="1" />
<circle cx="257.95" cy="429.40" r="2" stroke="#3ab8b8" stroke-width="0.9" fill="#fff"/>
<text x="269.40" y="432.60" font-size="8.2" text-anchor="start" font-weight="normal" font-style="normal" fill="#111" stroke="#111" stroke-width="0.15" >TAC</text>
<rect x="407.70" y="274.20" width="17.50" height="17.40" stroke="#d4d4d4" stroke-width="0.6" fill="#fff"/>
<line x1="409.20" y1="282.90" x2="423.70" y2="282.90" stroke="#e3878a" stroke-width="1" />
<circle cx="416.45" cy="282.90" r="2" stroke="#e3878a" stroke-width="0.9" fill="#fff"/>
<text x="426.90" y="286.10" font-size="8.2" text-anchor="start" font-weight="normal" font-style="normal" fill="#111" stroke="#111" stroke-width="0.15" >Sham</text>
<rect x="407.70" y="291.60" width="17.50" height="17.40" stroke="#d4d4d4" stroke-width="0.6" fill="#fff"/>
<line x1="409.20" y1="300.30" x2="423.70" y2="300.30" stroke="#3ab8b8" stroke-width="1" />
<circle cx="416.45" cy="300.30" r="2" stroke="#3ab8b8" stroke-width="0.9" fill="#fff"/>
<text x="426.90" y="303.50" font-size="8.2" text-anchor="start" font-weight="normal" font-style="normal" fill="#111" stroke="#111" stroke-width="0.15" >TAC</text>
<rect x="133.50" y="476.20" width="116.90" height="185.40" stroke="#a8a8a8" stroke-width="1.2" fill="none"/>
<line x1="129.60" y1="655.72" x2="133.50" y2="655.72" stroke="#333" stroke-width="0.9" />
<text x="125.50" y="658.62" font-size="8.2" text-anchor="end" font-weight="normal" font-style="normal" fill="#111" stroke="#111" stroke-width="0.15" >0.8</text>
<line x1="129.60" y1="627.20" x2="133.50" y2="627.20" stroke="#333" stroke-width="0.9" />
<text x="125.50" y="630.10" font-size="8.2" text-anchor="end" font-weight="normal" font-style="normal" fill="#111" stroke="#111" stroke-width="0.15" >1.0</text>
<line x1="129.60" y1="598.68" x2="133.50" y2="598.68" stroke="#333" stroke-width="0.9" />
<text x="125.50" y="601.58" font-size="8.2" text-anchor="end" font-weight="normal" font-style="normal" fill="#111" stroke="#111" stroke-width="0.15" >1.2</text>
<line x1="129.60" y1="570.16" x2="133.50" y2="570.16" stroke="#333" stroke-width="0.9" />
<text x="125.50" y="573.06" font-size="8.2" text-anchor="end" font-weight="normal" font-style="normal" fill="#111" stroke="#111" stroke-width="0.15" >1.4</text>
<line x1="129.60" y1="541.64" x2="133.50" y2="541.64" stroke="#333" stroke-width="0.9" />
<text x="125.50" y="544.54" font-size="8.2" text-anchor="end" font-weight="normal" font-style="normal" fill="#111" stroke="#111" stroke-width="0.15" >1.6</text>
<line x1="129.60" y1="513.12" x2="133.50" y2="513.12" stroke="#333" stroke-width="0.9" />
<text x="125.50" y="516.02" font-size="8.2" text-anchor="end" font-weight="normal" font-style="normal" fill="#111" stroke="#111" stroke-width="0.15" >1.8</text>
<line x1="129.60" y1="484.60" x2="133.50" y2="484.60" stroke="#333" stroke-width="0.9" />
<text x="125.50" y="487.50" font-size="8.2" text-anchor="end" font-weight="normal" font-style="normal" fill="#111" stroke="#111" stroke-width="0.15" >2.0</text>
<line x1="138.40" y1="661.60" x2="138.40" y2="665.10" stroke="#333" stroke-width="0.9" />
<text x="138.40" y="676.30" font-size="8.6" text-anchor="middle" font-weight="normal" font-style="normal" fill="#111" stroke="#111" stroke-width="0.15" >5</text>
<line x1="154.73" y1="661.60" x2="154.73" y2="665.10" stroke="#333" stroke-width="0.9" />
<text x="154.73" y="676.30" font-size="8.6" text-anchor="middle" font-weight="normal" font-style="normal" fill="#111" stroke="#111" stroke-width="0.15" >6</text>
<line x1="171.06" y1="661.60" x2="171.06" y2="665.10" stroke="#333" stroke-width="0.9" />
<text x="171.06" y="676.30" font-size="8.6" text-anchor="middle" font-weight="normal" font-style="normal" fill="#111" stroke="#111" stroke-width="0.15" >7</text>
<line x1="187.39" y1="661.60" x2="187.39" y2="665.10" stroke="#333" stroke-width="0.9" />
<text x="187.39" y="676.30" font-size="8.6" text-anchor="middle" font-weight="normal" font-style="normal" fill="#111" stroke="#111" stroke-width="0.15" >8</text>
<line x1="203.72" y1="661.60" x2="203.72" y2="665.10" stroke="#333" stroke-width="0.9" />
<text x="203.72" y="676.30" font-size="8.6" text-anchor="middle" font-weight="normal" font-style="normal" fill="#111" stroke="#111" stroke-width="0.15" >9</text>
<line x1="220.05" y1="661.60" x2="220.05" y2="665.10" stroke="#333" stroke-width="0.9" />
<text x="220.05" y="676.30" font-size="8.6" text-anchor="middle" font-weight="normal" font-style="normal" fill="#111" stroke="#111" stroke-width="0.15" >10</text>
<line x1="236.38" y1="661.60" x2="236.38" y2="665.10" stroke="#333" stroke-width="0.9" />
<text x="236.38" y="676.30" font-size="8.6" text-anchor="middle" font-weight="normal" font-style="normal" fill="#111" stroke="#111" stroke-width="0.15" >11</text>
<text x="110.50" y="568.90" font-size="8.8" text-anchor="middle" font-weight="normal" font-style="normal" fill="#111" stroke="#111" stroke-width="0.15" transform="rotate(-90 110.5 568.9)" textLength="87.4" lengthAdjust="spacingAndGlyphs">Total TGF−β1 [ng/ml]</text>
<text x="190.00" y="688.40" font-size="9.4" text-anchor="middle" font-weight="normal" font-style="normal" fill="#111" stroke="#111" stroke-width="0.15" >Heart Weight/Body Weight [mg/g]</text>
<line x1="145.10" y1="581.40" x2="232.10" y2="544.20" stroke="#4a72c8" stroke-width="1" />
<circle cx="163.40" cy="527.20" r="2.1" stroke="#222" stroke-width="0.95" fill="none"/>
<circle cx="182.30" cy="532.90" r="2.1" stroke="#222" stroke-width="0.95" fill="none"/>
<circle cx="159.80" cy="542.80" r="2.1" stroke="#222" stroke-width="0.95" fill="none"/>
<circle cx="166.70" cy="542.80" r="2.1" stroke="#222" stroke-width="0.95" fill="none"/>
<circle cx="175.10" cy="547.10" r="2.1" stroke="#222" stroke-width="0.95" fill="none"/>
<circle cx="180.30" cy="557.20" r="2.1" stroke="#222" stroke-width="0.95" fill="none"/>
<circle cx="182.90" cy="561.50" r="2.1" stroke="#222" stroke-width="0.95" fill="none"/>
<circle cx="145.10" cy="578.80" r="2.1" stroke="#222" stroke-width="0.95" fill="none"/>
<circle cx="152.20" cy="575.90" r="2.1" stroke="#222" stroke-width="0.95" fill="none"/>
<circle cx="155.50" cy="574.50" r="2.1" stroke="#222" stroke-width="0.95" fill="none"/>
<circle cx="182.00" cy="575.70" r="2.1" stroke="#222" stroke-width="0.95" fill="none"/>
<circle cx="162.90" cy="584.60" r="2.1" stroke="#222" stroke-width="0.95" fill="none"/>
<circle cx="168.10" cy="583.20" r="2.1" stroke="#222" stroke-width="0.95" fill="none"/>
<circle cx="197.20" cy="587.20" r="2.1" stroke="#222" stroke-width="0.95" fill="none"/>
<circle cx="145.60" cy="595.70" r="2.1" stroke="#222" stroke-width="0.95" fill="none"/>
<circle cx="176.80" cy="593.20" r="2.1" stroke="#222" stroke-width="0.95" fill="none"/>
<circle cx="149.90" cy="603.10" r="2.1" stroke="#222" stroke-width="0.95" fill="none"/>
<circle cx="185.10" cy="604.30" r="2.1" stroke="#222" stroke-width="0.95" fill="none"/>
<circle cx="156.50" cy="610.00" r="2.1" stroke="#222" stroke-width="0.95" fill="none"/>
<circle cx="232.10" cy="513.00" r="2.1" stroke="#222" stroke-width="0.95" fill="none"/>
<circle cx="219.50" cy="526.00" r="2.1" stroke="#222" stroke-width="0.95" fill="none"/>
<circle cx="205.60" cy="532.90" r="2.1" stroke="#222" stroke-width="0.95" fill="none"/>
<circle cx="223.40" cy="562.90" r="2.1" stroke="#222" stroke-width="0.95" fill="none"/>
<circle cx="225.20" cy="571.60" r="2.1" stroke="#222" stroke-width="0.95" fill="none"/>
<circle cx="212.20" cy="581.40" r="2.1" stroke="#222" stroke-width="0.95" fill="none"/>
<text x="212.90" y="646.30" font-size="9.4" text-anchor="start" font-weight="normal" font-style="normal" fill="#4a72c8" stroke="#4a72c8" stroke-width="0.15" >r=0.66</text>
<text x="212.6" y="655.6" font-size="9.4" fill="#4a72c8" stroke="#4a72c8" stroke-width="0.15"><tspan font-style="italic">p</tspan>&lt;0.001</text>
<rect x="286.50" y="476.20" width="173.00" height="185.60" stroke="#a8a8a8" stroke-width="1.2" fill="none"/>
<line x1="281.50" y1="653.50" x2="286.50" y2="653.50" stroke="#333" stroke-width="0.9" />
<text x="279.30" y="656.40" font-size="8.2" text-anchor="end" font-weight="normal" font-style="normal" fill="#111" stroke="#111" stroke-width="0.15" >0.0</text>
<line x1="281.50" y1="623.35" x2="286.50" y2="623.35" stroke="#333" stroke-width="0.9" />
<text x="279.30" y="626.25" font-size="8.2" text-anchor="end" font-weight="normal" font-style="normal" fill="#111" stroke="#111" stroke-width="0.15" >0.5</text>
<line x1="281.50" y1="593.20" x2="286.50" y2="593.20" stroke="#333" stroke-width="0.9" />
<text x="279.30" y="596.10" font-size="8.2" text-anchor="end" font-weight="normal" font-style="normal" fill="#111" stroke="#111" stroke-width="0.15" >1.0</text>
<line x1="281.50" y1="563.05" x2="286.50" y2="563.05" stroke="#333" stroke-width="0.9" />
<text x="279.30" y="565.95" font-size="8.2" text-anchor="end" font-weight="normal" font-style="normal" fill="#111" stroke="#111" stroke-width="0.15" >1.5</text>
<line x1="281.50" y1="532.90" x2="286.50" y2="532.90" stroke="#333" stroke-width="0.9" />
<text x="279.30" y="535.80" font-size="8.2" text-anchor="end" font-weight="normal" font-style="normal" fill="#111" stroke="#111" stroke-width="0.15" >2.0</text>
<line x1="281.50" y1="502.75" x2="286.50" y2="502.75" stroke="#333" stroke-width="0.9" />
<text x="279.30" y="505.65" font-size="8.2" text-anchor="end" font-weight="normal" font-style="normal" fill="#111" stroke="#111" stroke-width="0.15" >2.5</text>
<line x1="293.60" y1="661.80" x2="293.60" y2="665.80" stroke="#333" stroke-width="0.9" />
<text x="293.60" y="676.30" font-size="8.6" text-anchor="middle" font-weight="normal" font-style="normal" fill="#111" stroke="#111" stroke-width="0.15" >0</text>
<line x1="319.88" y1="661.80" x2="319.88" y2="665.80" stroke="#333" stroke-width="0.9" />
<text x="319.88" y="676.30" font-size="8.6" text-anchor="middle" font-weight="normal" font-style="normal" fill="#111" stroke="#111" stroke-width="0.15" >1</text>
<line x1="346.16" y1="661.80" x2="346.16" y2="665.80" stroke="#333" stroke-width="0.9" />
<text x="346.16" y="676.30" font-size="8.6" text-anchor="middle" font-weight="normal" font-style="normal" fill="#111" stroke="#111" stroke-width="0.15" >2</text>
<line x1="372.44" y1="661.80" x2="372.44" y2="665.80" stroke="#333" stroke-width="0.9" />
<text x="372.44" y="676.30" font-size="8.6" text-anchor="middle" font-weight="normal" font-style="normal" fill="#111" stroke="#111" stroke-width="0.15" >3</text>
<line x1="398.72" y1="661.80" x2="398.72" y2="665.80" stroke="#333" stroke-width="0.9" />
<text x="398.72" y="676.30" font-size="8.6" text-anchor="middle" font-weight="normal" font-style="normal" fill="#111" stroke="#111" stroke-width="0.15" >4</text>
<line x1="425.00" y1="661.80" x2="425.00" y2="665.80" stroke="#333" stroke-width="0.9" />
<text x="425.00" y="676.30" font-size="8.6" text-anchor="middle" font-weight="normal" font-style="normal" fill="#111" stroke="#111" stroke-width="0.15" >5</text>
<line x1="451.28" y1="661.80" x2="451.28" y2="665.80" stroke="#333" stroke-width="0.9" />
<text x="451.28" y="676.30" font-size="8.6" text-anchor="middle" font-weight="normal" font-style="normal" fill="#111" stroke="#111" stroke-width="0.15" >6</text>
<text x="265.80" y="571.90" font-size="8.8" text-anchor="middle" font-weight="normal" font-style="normal" fill="#111" stroke="#111" stroke-width="0.15" transform="rotate(-90 265.8 571.9)" textLength="87.5" lengthAdjust="spacingAndGlyphs">Total TGF−β1 [ng/ml]</text>
<text x="374.50" y="688.60" font-size="9.4" text-anchor="middle" font-weight="normal" font-style="normal" fill="#111" stroke="#111" stroke-width="0.15" >Combined Fibrosis Grade</text>
<line x1="293.60" y1="588.70" x2="451.30" y2="528.30" stroke="#4a72c8" stroke-width="1" />
<circle cx="293.60" cy="563.05" r="2.1" stroke="#222" stroke-width="0.95" fill="none"/>
<circle cx="293.60" cy="592.60" r="2.1" stroke="#222" stroke-width="0.95" fill="none"/>
<circle cx="293.60" cy="618.53" r="2.1" stroke="#222" stroke-width="0.95" fill="none"/>
<circle cx="293.60" cy="629.98" r="2.1" stroke="#222" stroke-width="0.95" fill="none"/>
<circle cx="293.60" cy="631.19" r="2.1" stroke="#222" stroke-width="0.95" fill="none"/>
<circle cx="319.88" cy="556.42" r="2.1" stroke="#222" stroke-width="0.95" fill="none"/>
<circle cx="319.88" cy="558.83" r="2.1" stroke="#222" stroke-width="0.95" fill="none"/>
<circle cx="319.88" cy="581.14" r="2.1" stroke="#222" stroke-width="0.95" fill="none"/>
<circle cx="346.16" cy="525.06" r="2.1" stroke="#222" stroke-width="0.95" fill="none"/>
<circle cx="346.16" cy="550.39" r="2.1" stroke="#222" stroke-width="0.95" fill="none"/>
<circle cx="346.16" cy="552.20" r="2.1" stroke="#222" stroke-width="0.95" fill="none"/>
<circle cx="346.16" cy="554.00" r="2.1" stroke="#222" stroke-width="0.95" fill="none"/>
<circle cx="346.16" cy="563.65" r="2.1" stroke="#222" stroke-width="0.95" fill="none"/>
<circle cx="346.16" cy="570.89" r="2.1" stroke="#222" stroke-width="0.95" fill="none"/>
<circle cx="346.16" cy="575.71" r="2.1" stroke="#222" stroke-width="0.95" fill="none"/>
<circle cx="346.16" cy="627.57" r="2.1" stroke="#222" stroke-width="0.95" fill="none"/>
<circle cx="372.44" cy="489.48" r="2.1" stroke="#222" stroke-width="0.95" fill="none"/>
<circle cx="372.44" cy="509.99" r="2.1" stroke="#222" stroke-width="0.95" fill="none"/>
<circle cx="372.44" cy="525.06" r="2.1" stroke="#222" stroke-width="0.95" fill="none"/>
<circle cx="372.44" cy="544.36" r="2.1" stroke="#222" stroke-width="0.95" fill="none"/>
<circle cx="372.44" cy="550.39" r="2.1" stroke="#222" stroke-width="0.95" fill="none"/>
<circle cx="372.44" cy="565.46" r="2.1" stroke="#222" stroke-width="0.95" fill="none"/>
<circle cx="372.44" cy="569.08" r="2.1" stroke="#222" stroke-width="0.95" fill="none"/>
<circle cx="372.44" cy="597.42" r="2.1" stroke="#222" stroke-width="0.95" fill="none"/>
<circle cx="372.44" cy="600.44" r="2.1" stroke="#222" stroke-width="0.95" fill="none"/>
<circle cx="398.72" cy="494.31" r="2.1" stroke="#222" stroke-width="0.95" fill="none"/>
<circle cx="398.72" cy="525.06" r="2.1" stroke="#222" stroke-width="0.95" fill="none"/>
<circle cx="398.72" cy="573.90" r="2.1" stroke="#222" stroke-width="0.95" fill="none"/>
<circle cx="425.00" cy="543.15" r="2.1" stroke="#222" stroke-width="0.95" fill="none"/>
<circle cx="425.00" cy="553.40" r="2.1" stroke="#222" stroke-width="0.95" fill="none"/>
<circle cx="425.00" cy="566.67" r="2.1" stroke="#222" stroke-width="0.95" fill="none"/>
<circle cx="425.00" cy="583.55" r="2.1" stroke="#222" stroke-width="0.95" fill="none"/>
<circle cx="451.28" cy="535.31" r="2.1" stroke="#222" stroke-width="0.95" fill="none"/>
<text x="421.50" y="645.90" font-size="9.4" text-anchor="start" font-weight="normal" font-style="normal" fill="#4a72c8" stroke="#4a72c8" stroke-width="0.15" >r=0.47</text>
<text x="421.5" y="655.6" font-size="9.4" fill="#4a72c8" stroke="#4a72c8" stroke-width="0.15"><tspan font-style="italic">p</tspan>=0.005</text>
</svg></body></html>
